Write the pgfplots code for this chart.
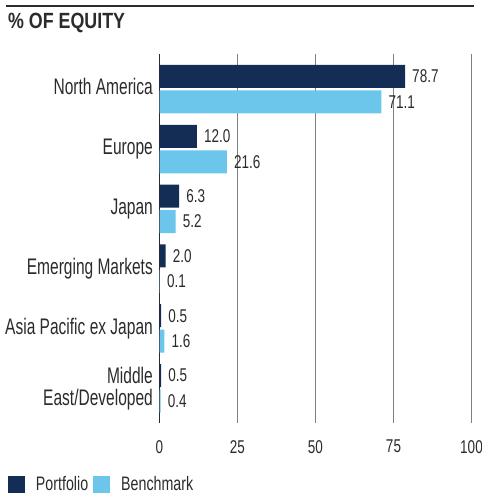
\documentclass[border=0pt]{standalone}
\usepackage{fontspec}
\setmainfont{Liberation Sans}[FakeStretch=0.73]
\newfontfamily\catfont{Liberation Sans}[FakeStretch=0.69]
\newfontfamily\titlefont{Liberation Sans}[FakeStretch=0.81]
\usepackage{pgfplots}
\pgfplotsset{compat=1.18}
\definecolor{navy}{HTML}{142D55}
\definecolor{sky}{HTML}{6CC5EA}
\definecolor{txt}{HTML}{2B2B2B}
\definecolor{gridc}{HTML}{808080}
\begin{document}
\begin{tikzpicture}
\useasboundingbox (0,0) rectangle (482bp,495bp);
\draw[line width=1.5bp, color=txt] (6bp,489bp) -- (474bp,489bp);
\node[anchor=base west, inner sep=0pt, text=txt, font=\titlefont\bfseries\fontsize{22bp}{24bp}\selectfont] at (8bp,466bp) {\% OF EQUITY};
\begin{axis}[
  at={(159.5bp,72bp)}, anchor=south west,
  scale only axis, width=312bp, height=369bp,
  xbar, bar width=23bp,
  xmin=0, xmax=100, ymin=-0.585, ymax=5.585,
  xtick={0,25,50,75,100},
  ytick={0,1,2,3,4,5},
  yticklabels={{\raisebox{11bp}{\begin{tabular}[t]{@{}r@{}}Middle\\East/Developed\end{tabular}}}, Asia Pacific ex Japan, Emerging Markets, Japan, Europe, North America},
  /pgf/number format/assume math mode=true,
  axis x line*=bottom, axis y line*=left,
  x axis line style={draw=none},
  y axis line style={draw=txt, line width=1bp},
  major tick length=0pt,
  xmajorgrids, major grid style={gridc, line width=1bp},
  xticklabel style={font=\fontsize{18.5bp}{20bp}\selectfont, text=txt, inner sep=0pt, anchor=north, yshift=-17bp},
  yticklabel style={font=\catfont\fontsize{22.5bp}{22bp}\selectfont, text=txt, inner sep=0pt, anchor=base east, xshift=-6.5bp, yshift=-6bp},
  point meta=x,
  nodes near coords={\pgfmathprintnumber[fixed,fixed zerofill,precision=1]{\pgfplotspointmeta}},
  nodes near coords style={font=\fontsize{18.5bp}{20bp}\selectfont, text=txt, inner sep=0pt, anchor=west, xshift=7bp},
  legend style={at={(-0.4856,-0.1897)}, anchor=south west, draw=none, fill=none, inner sep=0pt, outer sep=0pt, legend columns=2, font=\fontsize{19.5bp}{21bp}\selectfont, text=txt, nodes={inner sep=0pt, anchor=base west}, /tikz/every even column/.append style={column sep=5bp}},
]
\addplot[fill=navy, draw=none, bar shift=12.5bp, legend image code/.code={\fill[navy, draw=none] (0bp,-2bp) rectangle (17bp,15bp); \path[draw=none, fill=none] (28bp,0bp);}] coordinates {(78.7,5) (12.0,4) (6.3,3) (2.0,2) (0.5,1) (0.5,0)};
\addlegendentry{Portfolio}
\addplot[fill=sky, draw=none, bar shift=-13bp, legend image code/.code={\fill[sky, draw=none] (0bp,-2bp) rectangle (17bp,15bp); \path[draw=none, fill=none] (28bp,0bp);}] coordinates {(71.1,5) (21.6,4) (5.2,3) (0.1,2) (1.6,1) (0.4,0)};
\addlegendentry{Benchmark}
\end{axis}
\end{tikzpicture}
\end{document}
